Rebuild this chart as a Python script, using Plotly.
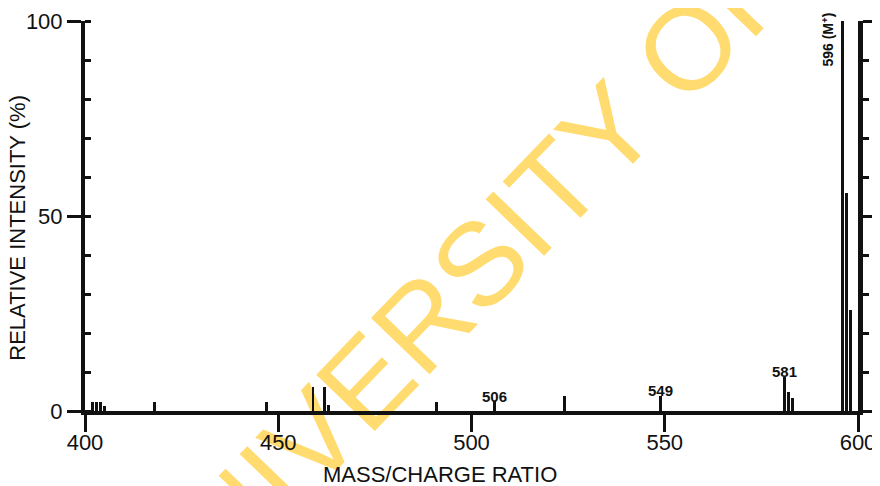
import plotly.graph_objects as go

# peaks (m/z, relative intensity %)
masses = [402, 403, 404, 405, 418, 447, 459, 462, 463, 491, 506, 524, 549,
          581, 582, 583, 596, 597, 598]
intensity = [2.3, 2.3, 2.3, 1.3, 2.3, 2.3, 6.2, 6.2, 1.5, 2.3, 2.5, 3.8, 3.9,
             8.8, 5.0, 3.3, 100, 56, 26]

label_masses = [506, 549, 581]
label_heights = [2.5, 3.9, 8.8]
parent_mass = 596
parent_text = "596 (M<sup>+</sup>)"

x_ticks = [400, 450, 500, 550, 600]
y_ticks = [0, 50, 100]
x_title = "MASS/CHARGE RATIO"
y_title = "RELATIVE INTENSITY (%)"

FONT = "Liberation Sans, Arial, sans-serif"
INK = "#111111"

fig = go.Figure()
fig.add_trace(go.Bar(x=masses, y=intensity, width=0.75,
                     marker=dict(color=INK, line_width=0), showlegend=False))
# invisible trace to carry the right-hand axis
fig.add_trace(go.Scatter(x=[400], y=[0], yaxis="y2", mode="markers",
                         marker_opacity=0, showlegend=False, hoverinfo="skip"))

for m, h in zip(label_masses, label_heights):
    fig.add_annotation(x=m, y=h, text="<b>%d</b>" % m, showarrow=False,
                       yanchor="middle", yshift=5,
                       font=dict(family=FONT, size=15, color=INK))
fig.add_annotation(x=parent_mass, y=100, text="<b>%s</b>" % parent_text, showarrow=False,
                   textangle=-90, xanchor="center", yanchor="top", xshift=-15, yshift=10,
                   font=dict(family=FONT, size=14, color=INK))

# axis titles (hand lettered, a little off centre in the original)
fig.add_annotation(xref="paper", yref="paper", x=0.459, y=0, yshift=-63, text=x_title,
                   showarrow=False, xanchor="center", yanchor="middle",
                   font=dict(family=FONT, size=22, color=INK))
fig.add_annotation(xref="paper", yref="paper", x=0, xshift=-67, y=0.47, text=y_title,
                   showarrow=False, textangle=-90, xanchor="center", yanchor="middle",
                   font=dict(family=FONT, size=22, color=INK))

# library watermark, kept under the drawing
fig.add_shape(type="rect", xref="paper", yref="paper", x0=0.469, x1=0.471, y0=0.335, y1=0.337,
              line_width=0, fillcolor="rgba(0,0,0,0)", layer="below",
              label=dict(text="UNIVERSITY OF", textangle=-46, textposition="middle center",
                         font=dict(family=FONT, size=118, color="#FFDB70")))

fig.update_layout(
    width=872, height=478,
    margin=dict(l=77, r=22, t=13, b=75),
    paper_bgcolor="white", plot_bgcolor="rgba(0,0,0,0)",
    bargap=0, showlegend=False,
    font=dict(family=FONT, color=INK),
    xaxis=dict(range=[400, 600], tickvals=x_ticks, ticks="outside", ticklen=17,
               tickwidth=3, tickcolor=INK, showline=True, linewidth=4, linecolor=INK,
               showgrid=False, zeroline=False, tickfont=dict(size=22), automargin=False,
               ticklabelstandoff=-8),
    yaxis=dict(range=[0, 100], tickvals=y_ticks, ticks="outside", ticklen=14,
               tickwidth=3, tickcolor=INK, showline=True, linewidth=4, linecolor=INK,
               showgrid=False, zeroline=False, tickfont=dict(size=22), automargin=False,
               minor=dict(dtick=10, ticks="inside", ticklen=6, tickwidth=3, tickcolor=INK)),
    yaxis2=dict(range=[0, 100], overlaying="y", side="right", anchor="x",
                tickvals=y_ticks, ticks="outside", ticklen=14, tickwidth=3, tickcolor=INK,
                showticklabels=False, showline=True, linewidth=5, linecolor=INK,
                showgrid=False, zeroline=False, automargin=False,
                minor=dict(dtick=10, ticks="outside", ticklen=6, tickwidth=3, tickcolor=INK)),
)

fig.write_html("out.html")
